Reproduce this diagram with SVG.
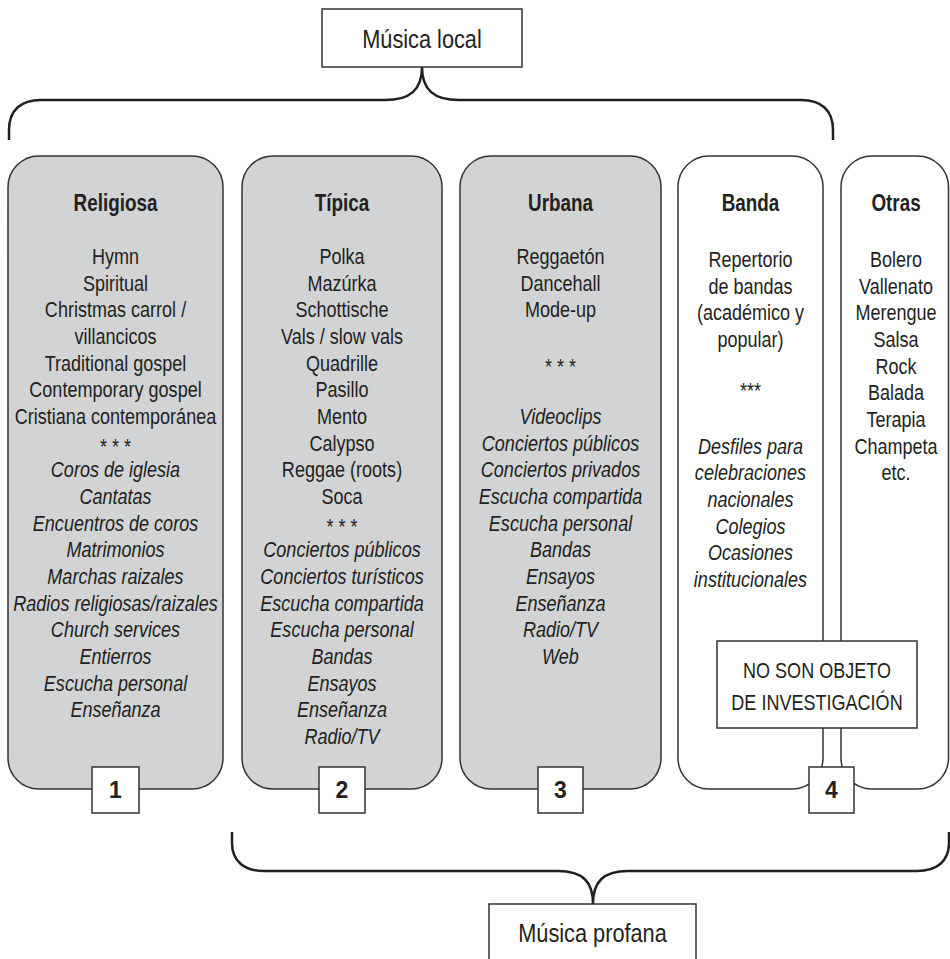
<svg xmlns="http://www.w3.org/2000/svg" width="950" height="959" viewBox="0 0 950 959">
<style>
text{font-family:"Liberation Sans","Arial",sans-serif;font-size:22px;fill:#231f20;text-anchor:middle}
.h{font-weight:bold;font-size:23px}
.i{font-style:italic}
.n{font-weight:bold;font-size:23px}
.big{font-size:26.5px}
.col{stroke:#333;stroke-width:1.5}
.gray{fill:#d1d3d4}
.white{fill:#fff}
.sq{fill:#fff;stroke:#333;stroke-width:1.5}
.brace{fill:none;stroke:#231f20;stroke-width:2.5}
</style>
<rect width="950" height="959" fill="#fff"/>
<g id="connectors">
<path class="brace" d="M9 140 L9 130 C9 110 21 100 41 100 L385 100 C410 100 422 90 422 67 C422 90 434 100 459 100 L801 100 C821 100 833 110 833 130 L833 140"/>
<path class="brace" d="M232 832 L232 843 C232 861 244 871 264 871 L558 871 C583 871 593 882 593 904 C593 882 603 871 628 871 L917 871 C937 871 949 861 949 843 L949 832"/>
</g>
<g id="musica-local">
<rect class="sq" x="322" y="9" width="200" height="58"/>
<g transform="translate(422 0) scale(0.82 1)"><text class="big" x="0" y="48">Música local</text></g>
</g>
<g id="religiosa">
<rect class="col gray" x="8" y="156" width="215" height="633" rx="31"/>
<g transform="translate(115.5 0) scale(0.82 1)">
<text class="h" x="0" y="211">Religiosa</text>
<text x="0" y="264"><tspan x="0">Hymn</tspan><tspan x="0" dy="26.67">Spiritual</tspan><tspan x="0" dy="26.67">Christmas carrol /</tspan><tspan x="0" dy="26.67">villancicos</tspan><tspan x="0" dy="26.67">Traditional gospel</tspan><tspan x="0" dy="26.67">Contemporary gospel</tspan><tspan x="0" dy="26.67">Cristiana contemporánea</tspan></text>
<text x="0" y="454">* * *</text>
<text class="i" x="0" y="477.33"><tspan x="0">Coros de iglesia</tspan><tspan x="0" dy="26.67">Cantatas</tspan><tspan x="0" dy="26.67">Encuentros de coros</tspan><tspan x="0" dy="26.67">Matrimonios</tspan><tspan x="0" dy="26.67">Marchas raizales</tspan><tspan x="0" dy="26.67">Radios religiosas/raizales</tspan><tspan x="0" dy="26.67">Church services</tspan><tspan x="0" dy="26.67">Entierros</tspan><tspan x="0" dy="26.67">Escucha personal</tspan><tspan x="0" dy="26.67">Enseñanza</tspan></text>
</g>
<rect class="sq" x="92" y="767" width="47" height="46"/>
<text class="n" x="115.5" y="798">1</text>
</g>
<g id="tipica">
<rect class="col gray" x="242" y="156" width="200" height="633" rx="31"/>
<g transform="translate(342 0) scale(0.82 1)">
<text class="h" x="0" y="211">Típica</text>
<text x="0" y="264"><tspan x="0">Polka</tspan><tspan x="0" dy="26.67">Mazúrka</tspan><tspan x="0" dy="26.67">Schottische</tspan><tspan x="0" dy="26.67">Vals / slow vals</tspan><tspan x="0" dy="26.67">Quadrille</tspan><tspan x="0" dy="26.67">Pasillo</tspan><tspan x="0" dy="26.67">Mento</tspan><tspan x="0" dy="26.67">Calypso</tspan><tspan x="0" dy="26.67">Reggae (roots)</tspan><tspan x="0" dy="26.67">Soca</tspan></text>
<text x="0" y="534">* * *</text>
<text class="i" x="0" y="557.33"><tspan x="0">Conciertos públicos</tspan><tspan x="0" dy="26.67">Conciertos turísticos</tspan><tspan x="0" dy="26.67">Escucha compartida</tspan><tspan x="0" dy="26.67">Escucha personal</tspan><tspan x="0" dy="26.67">Bandas</tspan><tspan x="0" dy="26.67">Ensayos</tspan><tspan x="0" dy="26.67">Enseñanza</tspan><tspan x="0" dy="26.67">Radio/TV</tspan></text>
</g>
<rect class="sq" x="319" y="767" width="46" height="46"/>
<text class="n" x="342" y="798">2</text>
</g>
<g id="urbana">
<rect class="col gray" x="460" y="156" width="201" height="633" rx="31"/>
<g transform="translate(560.5 0) scale(0.82 1)">
<text class="h" x="0" y="211">Urbana</text>
<text x="0" y="264"><tspan x="0">Reggaetón</tspan><tspan x="0" dy="26.67">Dancehall</tspan><tspan x="0" dy="26.67">Mode-up</tspan></text>
<text x="0" y="374">* * *</text>
<text class="i" x="0" y="424"><tspan x="0">Videoclips</tspan><tspan x="0" dy="26.67">Conciertos públicos</tspan><tspan x="0" dy="26.67">Conciertos privados</tspan><tspan x="0" dy="26.67">Escucha compartida</tspan><tspan x="0" dy="26.67">Escucha personal</tspan><tspan x="0" dy="26.67">Bandas</tspan><tspan x="0" dy="26.67">Ensayos</tspan><tspan x="0" dy="26.67">Enseñanza</tspan><tspan x="0" dy="26.67">Radio/TV</tspan><tspan x="0" dy="26.67">Web</tspan></text>
</g>
<rect class="sq" x="538" y="767" width="45" height="46"/>
<text class="n" x="560.5" y="798">3</text>
</g>
<g id="banda">
<rect class="col white" x="678" y="156" width="145" height="633" rx="31"/>
<g transform="translate(750.5 0) scale(0.82 1)">
<text class="h" x="0" y="211">Banda</text>
<text x="0" y="267"><tspan x="0">Repertorio</tspan><tspan x="0" dy="26.67">de bandas</tspan><tspan x="0" dy="26.67">(académico y</tspan><tspan x="0" dy="26.67">popular)</tspan></text>
<text x="0" y="398">***</text>
<text class="i" x="0" y="453.67"><tspan x="0">Desfiles para</tspan><tspan x="0" dy="26.67">celebraciones</tspan><tspan x="0" dy="26.67">nacionales</tspan><tspan x="0" dy="26.67">Colegios</tspan><tspan x="0" dy="26.67">Ocasiones</tspan><tspan x="0" dy="26.67">institucionales</tspan></text>
</g>
</g>
<g id="otras">
<rect class="col white" x="841" y="156" width="107.5" height="633" rx="31"/>
<g transform="translate(896 0) scale(0.82 1)">
<text class="h" x="0" y="211">Otras</text>
<text x="0" y="267"><tspan x="0">Bolero</tspan><tspan x="0" dy="26.67">Vallenato</tspan><tspan x="0" dy="26.67">Merengue</tspan><tspan x="0" dy="26.67">Salsa</tspan><tspan x="0" dy="26.67">Rock</tspan><tspan x="0" dy="26.67">Balada</tspan><tspan x="0" dy="26.67">Terapia</tspan><tspan x="0" dy="26.67">Champeta</tspan><tspan x="0" dy="26.67">etc.</tspan></text>
</g>
</g>
<g id="label-4">
<rect class="sq" x="809" y="767" width="45" height="46"/>
<text class="n" x="831.5" y="798">4</text>
</g>
<g id="no-son-objeto">
<rect class="sq" x="717" y="641" width="200" height="87"/>
<g transform="translate(817 0) scale(0.82 1)">
<text x="0" y="678"><tspan x="0">NO SON OBJETO</tspan><tspan x="0" y="710">DE INVESTIGACIÓN</tspan></text>
</g>
</g>
<g id="musica-profana">
<rect class="sq" x="489" y="904" width="207" height="70"/>
<g transform="translate(592.5 0) scale(0.82 1)"><text class="big" x="0" y="942">Música profana</text></g>
</g>
</svg>
